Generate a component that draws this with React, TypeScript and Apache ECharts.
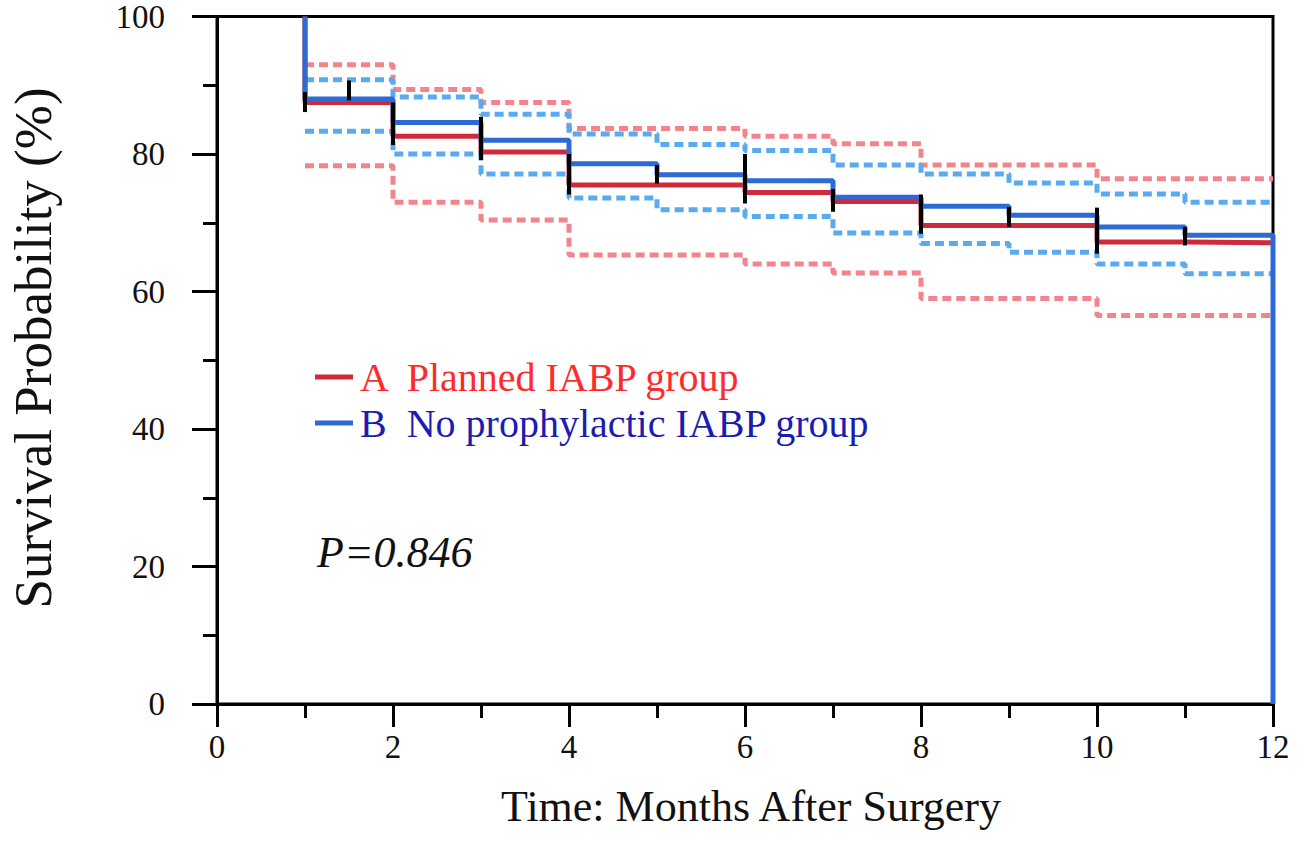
import React, { useEffect, useRef } from "react";
import * as echarts from "echarts";

// Kaplan-Meier step values on intervals [stepMonths[i], next)
const stepMonths = [1, 2, 3, 4, 5, 6, 7, 8, 9, 10, 11];
const endMonth = 12;
const survivalA = [87.5, 82.6, 80.3, 75.5, 75.5, 74.4, 73.1, 69.6, 69.6, 67.2, 67.1];
const survivalB = [88.0, 84.6, 82.0, 78.6, 77.0, 76.1, 73.7, 72.4, 71.1, 69.4, 68.2];
const upperA = [93.0, 89.4, 87.5, 83.7, 83.7, 82.6, 81.5, 78.4, 78.4, 76.4, 76.4];
const lowerA = [78.3, 73.0, 70.4, 65.3, 65.3, 64.0, 62.7, 59.0, 59.0, 56.5, 56.5];
const upperB = [90.8, 88.3, 85.8, 82.9, 81.4, 80.5, 78.4, 77.1, 75.8, 74.2, 73.0];
const lowerB = [83.3, 80.0, 77.1, 73.6, 71.9, 70.9, 68.5, 67.0, 65.7, 64.0, 62.6];

// censor marks (black ticks)
const censorMonths = [1, 1.5, 2, 3, 4, 5, 6, 7, 8, 9, 10, 11];
const censorHigh = [89.0, 90.7, 87.5, 85.4, 80.0, 78.4, 80.0, 74.9, 74.1, 72.3, 72.2, 69.4];
const censorLow = [86.1, 87.8, 81.3, 79.1, 74.1, 75.7, 72.8, 71.6, 68.4, 69.4, 65.5, 66.7];

const nameA = "A  Planned IABP group";
const nameB = "B  No prophylactic IABP group";
const yTitle = "Survival Probability (%)";
const xTitle = "Time: Months After Surgery";
const pText = "P=0.846";

const serif = "Liberation Serif";

function steps(vals: number[], start?: number, end?: number) {
  const pts: number[][] = [];
  if (start !== undefined) pts.push([stepMonths[0], start]);
  vals.forEach((v, i) => pts.push([stepMonths[i], v]));
  pts.push([endMonth, vals[vals.length - 1]]);
  if (end !== undefined) pts.push([endMonth, end]);
  return pts;
}

export default function App() {
  const ref = useRef<HTMLDivElement>(null);
  useEffect(() => {
    if (!ref.current) return;
    const chart = echarts.init(ref.current, undefined, { renderer: "svg" });
    const dashed = (name: string, data: number[][], color: string) => ({
      name,
      type: "line",
      step: "end",
      data,
      showSymbol: false,
      symbol: "none",
      lineStyle: { color, width: 5, type: [9, 5] },
      z: 2,
      silent: true,
    });
    const legendText = (color: string) => ({
      color,
      fontFamily: serif,
      fontSize: 40,
      lineHeight: 46,
      padding: [0, 0, 0, 2],
    });
    chart.setOption({
      animation: false,
      backgroundColor: "#fff",
      textStyle: { fontFamily: serif },
      grid: {
        left: 217,
        right: 42,
        top: 14,
        bottom: 137,
        show: true,
        borderColor: "#000",
        borderWidth: 3,
      },
      legend: {
        left: 310,
        top: 349,
        orient: "vertical",
        icon: "rect",
        itemWidth: 38,
        itemHeight: 5,
        itemGap: 0,
        selectedMode: false,
        data: [
          { name: nameA, textStyle: legendText("#ff2a2a") },
          { name: nameB, textStyle: legendText("#1c1cb0") },
        ],
        textStyle: legendText("#111"),
      },
      xAxis: {
        type: "value",
        min: 0,
        max: 12,
        interval: 2,
        name: xTitle,
        nameLocation: "middle",
        nameGap: 80,
        nameTextStyle: { fontFamily: serif, fontSize: 44, color: "#111", padding: [0, 0, 0, 12] },
        axisLine: { show: true, lineStyle: { color: "#000", width: 3 } },
        axisTick: { show: true, inside: false, length: 23, lineStyle: { color: "#000", width: 3 } },
        minorTick: { show: true, splitNumber: 2, length: 14, lineStyle: { color: "#000", width: 3 } },
        axisLabel: { fontFamily: serif, fontSize: 33, color: "#111", margin: 26 },
        splitLine: { show: false },
      },
      yAxis: {
        type: "value",
        min: 0,
        max: 100,
        interval: 20,
        axisLine: { show: true, lineStyle: { color: "#000", width: 3 } },
        axisTick: { show: true, inside: false, length: 25, lineStyle: { color: "#000", width: 3 } },
        minorTick: { show: true, splitNumber: 2, length: 14, lineStyle: { color: "#000", width: 3 } },
        axisLabel: { fontFamily: serif, fontSize: 33, color: "#111", margin: 52 },
        splitLine: { show: false },
      },
      graphic: [
        {
          type: "text",
          x: 33,
          y: 348,
          rotation: Math.PI / 2,
          style: {
            text: yTitle,
            fontFamily: serif,
            fontSize: 53,
            fill: "#111",
            align: "center",
            verticalAlign: "middle",
          },
        },
        {
          type: "text",
          left: 317,
          top: 530,
          style: {
            text: pText,
            fontFamily: serif,
            fontStyle: "italic",
            fontSize: 44,
            fill: "#111",
          },
        },
      ],
      series: [
        dashed("A upper", steps(upperA), "#f4848c"),
        dashed("A lower", steps(lowerA), "#f4848c"),
        dashed("B upper", steps(upperB), "#5aaaf0"),
        dashed("B lower", steps(lowerB), "#5aaaf0"),
        {
          name: nameA,
          type: "line",
          step: "end",
          data: steps(survivalA, 100),
          symbol: "none",
          itemStyle: { color: "#cf2a3c" },
          lineStyle: { color: "#cf2a3c", width: 5 },
          z: 3,
        },
        {
          name: nameB,
          type: "line",
          step: "end",
          data: steps(survivalB, 100, 0),
          symbol: "none",
          itemStyle: { color: "#2d6ad4" },
          lineStyle: { color: "#2d6ad4", width: 5 },
          z: 4,
        },
        {
          name: "censored",
          type: "custom",
          z: 5,
          silent: true,
          encode: { x: 0, y: [1, 2] },
          data: censorMonths.map((m, i) => [m, censorHigh[i], censorLow[i]]),
          renderItem: (_params: any, api: any) => {
            const x = api.value(0);
            const p1 = api.coord([x, api.value(1)]);
            const p2 = api.coord([x, api.value(2)]);
            return {
              type: "line",
              shape: { x1: p1[0], y1: p1[1], x2: p2[0], y2: p2[1] },
              style: { stroke: "#000", lineWidth: 4 },
            };
          },
        },
      ],
    });
    return () => chart.dispose();
  }, []);
  return (
    <div
      ref={ref}
      style={{ position: "absolute", left: 0, top: 0, width: 1315, height: 841, background: "#fff" }}
    />
  );
}
